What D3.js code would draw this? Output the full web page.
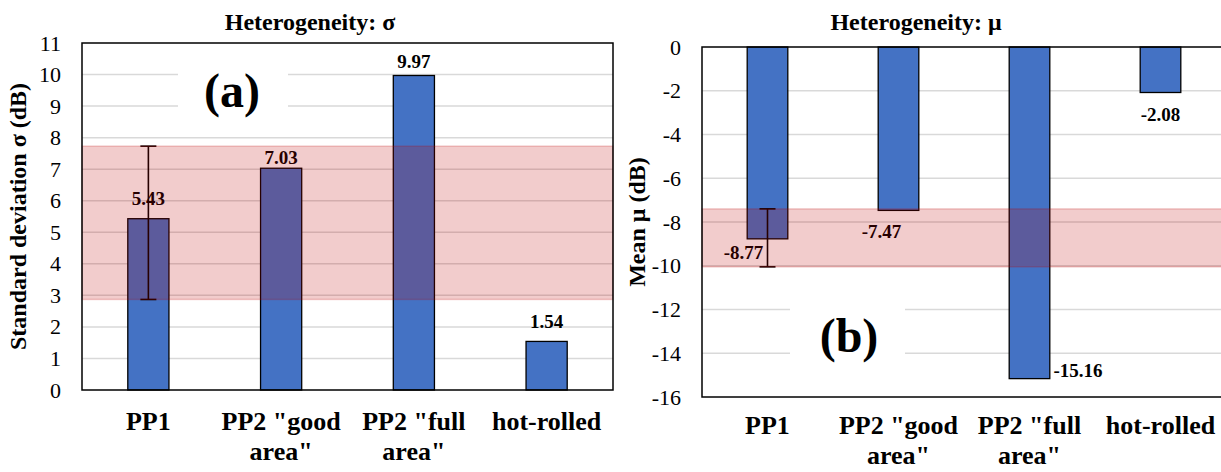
<!DOCTYPE html>
<html>
<head>
<meta charset="utf-8">
<script src="https://d3js.org/d3.v7.min.js"></script>
<style>
  body { margin: 0; background: #fff; }
</style>
</head>
<body>
<svg id="chart" width="1221" height="472"></svg>
<script>
// data
var categories = ['PP1', 'PP2 "good area"', 'PP2 "full area"', 'hot-rolled'];
var sigmaValues = [5.43, 7.03, 9.97, 1.54];
var muValues = [-8.77, -7.47, -15.16, -2.08];
var sigmaTicks = [0, 1, 2, 3, 4, 5, 6, 7, 8, 9, 10, 11];
var muTicks = [0, -2, -4, -6, -8, -10, -12, -14, -16];
// error bar on PP1 and the shaded range (same limits)
var sigmaRange = [2.87, 7.73];
var muRange = [-10.05, -7.4];

var FONT = "'Liberation Serif'";
var svg = d3.select('#chart');
var blue = '#4472C4';
var bandFill = 'rgba(192,0,0,0.2)';

function txt(sel) {
  return sel.append('text').style('font-family', FONT);
}

function wrapLines(str, maxW, fontSize) {
  // greedy word wrap, measured with a temp text
  var tmp = txt(svg).style('font-size', fontSize + 'px').style('font-weight', 'bold');
  var words = str.split(' '), lines = [], cur = '';
  words.forEach(function (w) {
    var t = cur ? cur + ' ' + w : w;
    tmp.text(t);
    if (cur && tmp.node().getComputedTextLength() > maxW) { lines.push(cur); cur = w; }
    else cur = t;
  });
  lines.push(cur);
  tmp.remove();
  return lines;
}

function panel(o) {
  var g = svg.append('g');
  var x = d3.scaleBand().domain(categories).range([o.left, o.right]).paddingInner(0.69).paddingOuter(0.345);
  var y = d3.scaleLinear().domain(o.domain).range([o.bottom, o.top]);

  // gridlines
  g.selectAll('.grid').data(o.ticks.filter(function (t) { return t !== o.domain[0] && t !== o.domain[1]; }))
    .enter().append('line')
    .attr('x1', o.left).attr('x2', o.right)
    .attr('y1', function (d) { return y(d); }).attr('y2', function (d) { return y(d); })
    .attr('stroke', '#d9d9d9').attr('stroke-width', 1.5);

  // white box behind panel letter
  g.append('rect').attr('x', o.letterBox[0]).attr('y', o.letterBox[1])
    .attr('width', o.letterBox[2]).attr('height', o.letterBox[3]).attr('fill', '#fff');
  txt(g).attr('x', o.letterPos[0]).attr('y', o.letterPos[1])
    .attr('text-anchor', 'middle').style('font-size', '48px').style('font-weight', 'bold')
    .text(o.letter);

  // bars
  g.selectAll('.bar').data(o.values).enter().append('rect')
    .attr('x', function (d, i) { return x(categories[i]); })
    .attr('width', x.bandwidth())
    .attr('y', function (d) { return y(Math.max(0, d)); })
    .attr('height', function (d) { return Math.abs(y(d) - y(0)); })
    .attr('fill', blue).attr('stroke', '#000').attr('stroke-width', 1.3);

  // error bar on PP1
  var cx = x(categories[0]) + x.bandwidth() / 2;
  var eb = g.append('g').attr('stroke', '#000').attr('stroke-width', 1.6);
  eb.append('line').attr('x1', cx).attr('x2', cx).attr('y1', y(o.range[0])).attr('y2', y(o.range[1]));
  [o.range[0], o.range[1]].forEach(function (v) {
    eb.append('line').attr('x1', cx - 8).attr('x2', cx + 8).attr('y1', y(v)).attr('y2', y(v));
  });

  // value labels
  o.values.forEach(function (d, i) {
    txt(g).attr('x', x(categories[i]) + x.bandwidth() / 2 + o.labelNudge[i][0])
      .attr('y', y(d) + o.labelNudge[i][1])
      .attr('text-anchor', o.labelNudge[i][2] || 'middle')
      .style('font-size', '19px').style('font-weight', 'bold')
      .text(d.toFixed(2));
  });

  // shaded range drawn over bars
  g.append('rect').attr('x', o.left).attr('width', o.right - o.left)
    .attr('y', y(o.range[1])).attr('height', y(o.range[0]) - y(o.range[1]))
    .attr('fill', bandFill).attr('stroke', bandFill).attr('stroke-width', 1.5);

  // frame
  g.append('rect').attr('x', o.left).attr('y', o.top)
    .attr('width', o.right - o.left).attr('height', o.bottom - o.top)
    .attr('fill', 'none').attr('stroke', '#000').attr('stroke-width', 1.5);

  // y ticks (plain hyphen, like the original)
  var yAxis = d3.axisLeft(y).tickValues(o.ticks).tickSize(0).tickPadding(21)
    .tickFormat(function (d) { return String(d); });
  var ya = g.append('g').attr('transform', 'translate(' + o.left + ',0)').call(yAxis);
  ya.select('.domain').remove();
  ya.selectAll('text').style('font-size', '22px').style('font-family', FONT).attr('fill', '#000');

  // category labels
  categories.forEach(function (c) {
    var lines = wrapLines(c, x.step(), 26);
    var t = txt(g).attr('text-anchor', 'middle')
      .attr('x', x(c) + x.bandwidth() / 2).attr('y', o.bottom + o.catDy)
      .style('font-size', '26px').style('font-weight', 'bold');
    lines.forEach(function (l, k) {
      t.append('tspan').attr('x', x(c) + x.bandwidth() / 2).attr('dy', k ? 30 : 0).text(l);
    });
  });

  // title
  txt(g).attr('x', o.titleX).attr('y', 30).attr('text-anchor', 'middle')
    .style('font-size', '24px').style('font-weight', 'bold').text(o.title);

  // y axis title
  txt(g).attr('transform', 'translate(' + o.yTitleX + ',' + (o.top + o.bottom) / 2 + ') rotate(-90)')
    .attr('text-anchor', 'middle').style('font-size', '24px').style('font-weight', 'bold')
    .text(o.yTitle);
}

panel({
  left: 82, right: 613, top: 43, bottom: 390,
  domain: [0, 11], ticks: sigmaTicks, values: sigmaValues, range: sigmaRange,
  labelNudge: [[0, -14], [0, -4], [0, -7], [0, -13]],
  letter: '(a)', letterPos: [232, 107], letterBox: [178, 60, 110, 62], catDy: 40,
  title: 'Heterogeneity: σ', titleX: 310, yTitle: 'Standard deviation σ (dB)', yTitleX: 26
});

panel({
  left: 702, right: 1226, top: 47, bottom: 397,
  domain: [-16, 0], ticks: muTicks, values: muValues, range: muRange,
  labelNudge: [[-24, 20], [-17, 28], [24, -2, 'start'], [0, 28]],
  letter: '(b)', letterPos: [849, 352], letterBox: [790, 296, 115, 66], catDy: 37,
  title: 'Heterogeneity: μ', titleX: 916, yTitle: 'Mean μ (dB)', yTitleX: 645
});
</script>
</body>
</html>
